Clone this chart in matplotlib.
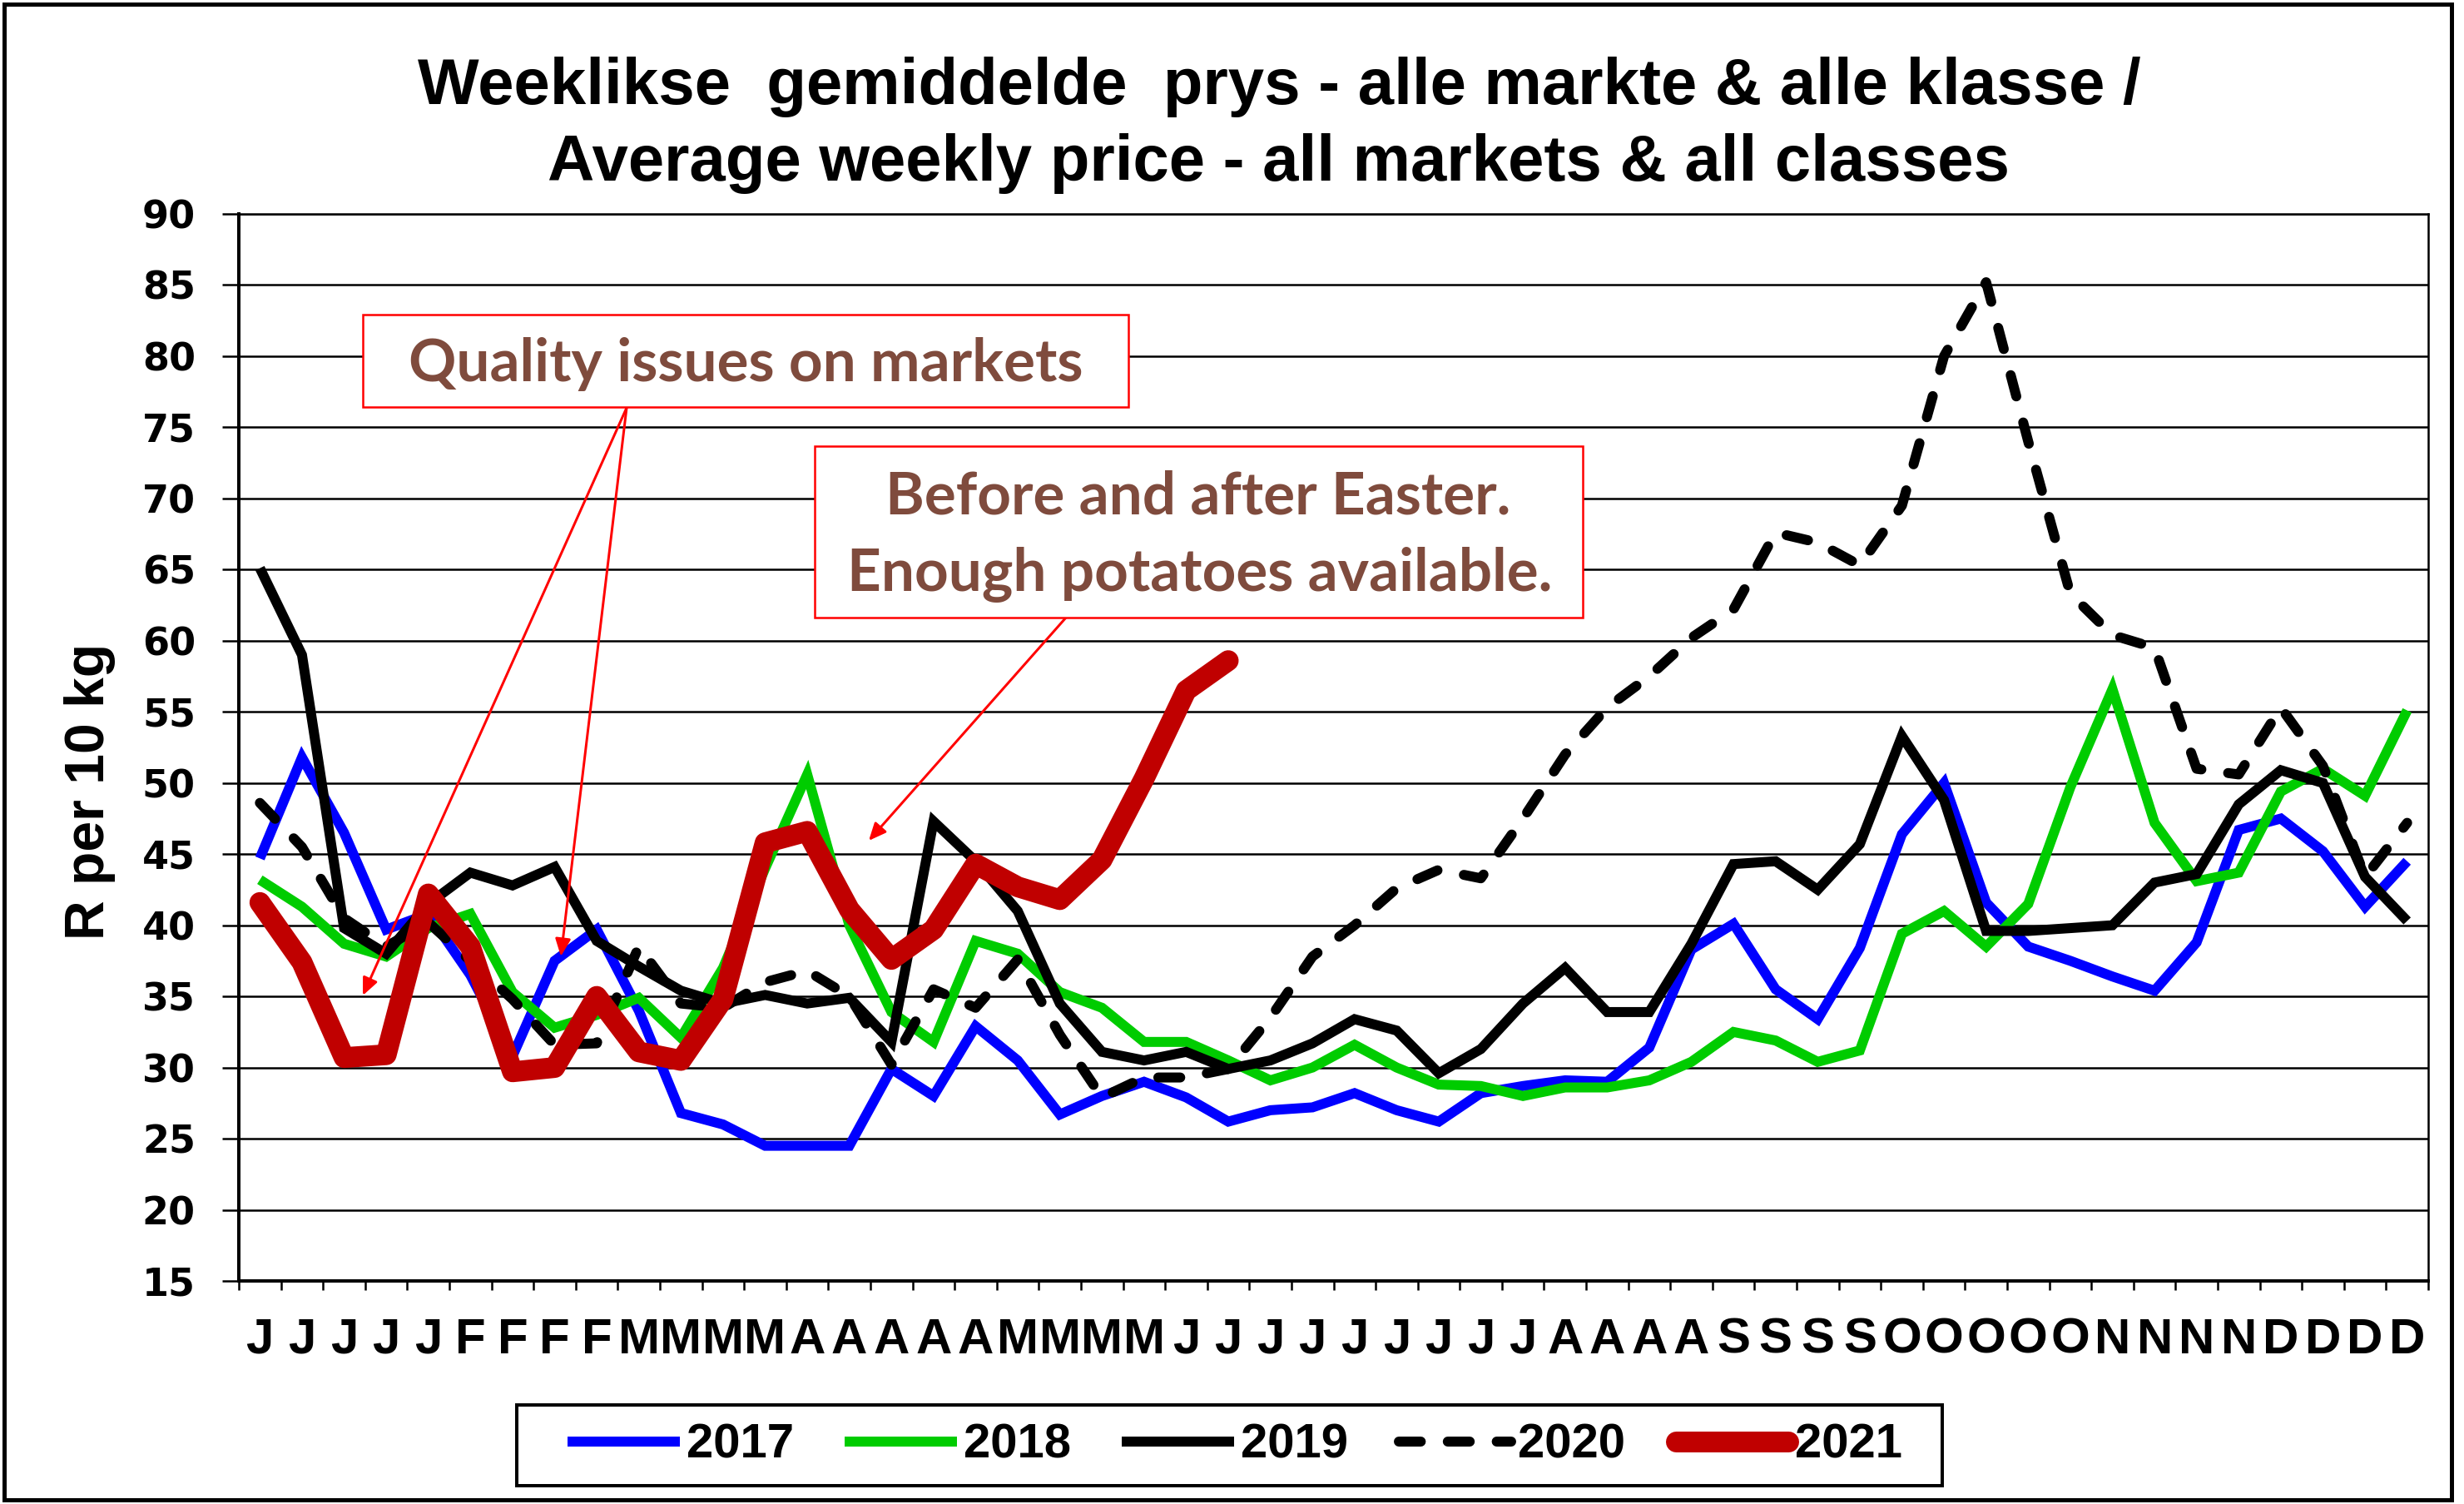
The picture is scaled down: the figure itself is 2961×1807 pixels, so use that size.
import matplotlib
matplotlib.use('Agg')
import matplotlib.pyplot as plt
from matplotlib.patches import Rectangle
import numpy as np

# ---------------- data ----------------
month_labels = (['J'] * 5 + ['F'] * 4 + ['M'] * 4 + ['A'] * 5 + ['M'] * 4 +
                ['J'] * 9 + ['A'] * 4 + ['S'] * 4 + ['O'] * 5 + ['N'] * 4 + ['D'] * 4)

y2017 = [44.7, 51.8, 46.5, 39.7, 40.8, 36.5, 30.8, 37.5, 39.7, 34.0,
         26.8, 26.0, 24.5, 24.5, 24.5, 29.9, 28.0, 32.9, 30.5, 26.7,
         28.0, 29.0, 27.9, 26.2, 27.0, 27.2, 28.2, 27.0, 26.2, 28.2,
         28.7, 29.1, 29.0, 31.4, 38.3, 40.1, 35.5, 33.4, 38.4, 46.4,
         50.0, 41.6, 38.5, 37.5, 36.4, 35.4, 38.8, 46.7, 47.5, 45.2,
         41.3, 44.5]

y2018 = [43.2, 41.3, 38.7, 37.8, 39.8, 40.8, 35.3, 32.8, 33.7, 34.9,
         32.1, 37.0, 44.0, 50.6, 40.0, 33.9, 31.8, 38.9, 38.0, 35.3,
         34.2, 31.8, 31.8, 30.5, 29.1, 30.0, 31.6, 30.0, 28.8, 28.7,
         28.0, 28.6, 28.6, 29.1, 30.4, 32.5, 31.9, 30.4, 31.2, 39.4,
         41.0, 38.5, 41.5, 49.7, 56.6, 47.2, 43.1, 43.7, 49.4, 51.0,
         49.1, 55.1]

y2019 = [65.1, 59.0, 39.8, 38.0, 41.5, 43.7, 42.8, 44.1, 38.9, 37.1,
         35.4, 34.5, 35.1, 34.5, 34.9, 31.8, 47.3, 44.5, 41.0, 34.5,
         31.1, 30.5, 31.1, 29.9, 30.5, 31.7, 33.4, 32.6, 29.6, 31.3,
         34.5, 37.0, 33.9, 33.9, 38.7, 44.3, 44.5, 42.5, 45.7, 53.3,
         48.8, 39.6, 39.6, 39.8, 40.0, 43.0, 43.6, 48.5, 50.9, 50.0,
         43.4, 40.3]

y2020 = [48.6, 45.5, 40.5, 38.5, 40.2, 37.5, 34.8, 31.6, 31.7, 38.5,
         34.5, 34.2, 36.0, 36.8, 35.0, 30.2, 35.5, 34.2, 37.6, 32.3,
         27.9, 29.3, 29.3, 29.9, 33.5, 37.8, 40.0, 42.6, 43.9, 43.3,
         47.5, 52.0, 55.3, 57.5, 60.2, 62.2, 67.6, 66.9, 65.3, 69.5,
         80.0, 85.2, 74.0, 63.3, 60.4, 59.5, 51.0, 50.6, 55.3, 51.2,
         43.4, 47.2]

y2021 = [41.6, 37.4, 30.7, 30.9, 42.2, 38.5, 29.7, 30.0, 35.0, 31.1,
         30.5, 34.8, 45.8, 46.6, 41.1, 37.6, 39.7, 44.3, 42.7, 41.8,
         44.6, 50.3, 56.5, 58.6]

years = ['2017', '2018', '2019', '2020', '2021']
y_ticks = list(range(15, 91, 5))

title_line1 = 'Weeklikse  gemiddelde  prys - alle markte & alle klasse /'
title_line2 = 'Average weekly price - all markets & all classes'
ylabel_text = 'R per 10 kg'
note1 = 'Quality issues on markets'
note2 = 'Before and after Easter.\nEnough potatoes available.'

# ---------------- figure ----------------
W, H, DPI = 2961, 1807, 100
fig = plt.figure(figsize=(W / DPI, H / DPI), dpi=DPI)
fig.patch.set_facecolor('white')


def fx(px):
    return px / W


def fy(py):
    return 1 - py / H


def pt(px):
    return px * 72.0 / DPI


AX_L, AX_R, AX_T, AX_B = 287, 2918, 257, 1539
ax = fig.add_axes([fx(AX_L), fy(AX_B), fx(AX_R) - fx(AX_L), fy(AX_T) - fy(AX_B)])

lw_thin = pt(12)
lw_red = pt(25)

ax.plot(np.arange(len(y2017)), y2017, color='#0000FF', lw=lw_thin,
        solid_joinstyle='miter', solid_capstyle='butt', label=years[0], zorder=3)
ax.plot(np.arange(len(y2018)), y2018, color='#00CC00', lw=lw_thin,
        solid_joinstyle='miter', solid_capstyle='butt', label=years[1], zorder=3)
ax.plot(np.arange(len(y2019)), y2019, color='black', lw=lw_thin,
        solid_joinstyle='miter', solid_capstyle='butt', label=years[2], zorder=3)
ax.plot(np.arange(len(y2020)), y2020, color='black', lw=lw_thin,
        linestyle=(0, (2.2, 2.7)), dash_capstyle='round', dash_joinstyle='round',
        label=years[3], zorder=3)
ax.plot(np.arange(len(y2021)), y2021, color='#C00000', lw=lw_red,
        solid_joinstyle='round', solid_capstyle='round', label=years[4], zorder=4)

ax.set_xlim(-0.5, len(month_labels) - 0.5)
ax.set_ylim(15, 90)

# y axis
ax.set_yticks(y_ticks)
ax.yaxis.grid(True, color='black', lw=pt(2.5))
ax.set_axisbelow(True)
ax.tick_params(axis='y', length=pt(20), width=pt(2.5), pad=pt(32), direction='out')
for lab in ax.get_yticklabels():
    lab.set_fontfamily('DejaVu Sans')
    lab.set_fontweight('bold')
    lab.set_fontsize(pt(46))

# x axis
ax.set_xticks(np.arange(len(month_labels)))
ax.set_xticklabels(month_labels)
ax.set_xticks(np.arange(-0.5, len(month_labels), 1.0), minor=True)
ax.tick_params(axis='x', which='major', length=0, pad=pt(44))
ax.tick_params(axis='x', which='minor', length=pt(11), width=pt(2.5), direction='out')
for lab in ax.get_xticklabels():
    lab.set_fontfamily('Liberation Sans')
    lab.set_fontweight('bold')
    lab.set_fontsize(pt(60))

for side in ['left', 'bottom']:
    ax.spines[side].set_linewidth(pt(4))
    ax.spines[side].set_color('black')
for side in ['top', 'right']:
    ax.spines[side].set_linewidth(pt(2.5))
    ax.spines[side].set_color('black')

# titles and axis label
fig.text(fx(1537), fy(125), title_line1, ha='center', va='baseline',
         fontfamily='Liberation Sans', fontweight='bold', fontsize=pt(78))
fig.text(fx(1537), fy(217), title_line2, ha='center', va='baseline',
         fontfamily='Liberation Sans', fontweight='bold', fontsize=pt(78))
fig.text(fx(108), fy(951), ylabel_text, rotation=90, ha='center', va='center',
         fontfamily='Liberation Sans', fontweight='bold', fontsize=pt(66))

# legend
leg = ax.legend(loc='center', bbox_to_anchor=(fx(1484), fy(1737)),
                bbox_transform=fig.transFigure, ncol=5, frameon=False,
                handlelength=2.33, handletextpad=0.14, columnspacing=1.05,
                borderpad=0.0, prop={'family': 'Liberation Sans', 'weight': 'bold',
                                      'size': pt(58)})
fig.add_artist(Rectangle((fx(621), fy(1785)), fx(2334) - fx(621), fy(1688) - fy(1785),
                         transform=fig.transFigure, fill=False, edgecolor='black',
                         lw=pt(4), zorder=5))

# annotation boxes
brown = '#7F4B3D'
fig.add_artist(Rectangle((fx(436), fy(489)), fx(1356) - fx(436), fy(378) - fy(489),
                         transform=fig.transFigure, facecolor='white', edgecolor='red',
                         lw=pt(2.5), zorder=5))
fig.text(fx(896), fy(458), note1, ha='center', va='baseline', color=brown,
         fontfamily='Lato', fontweight='bold', fontsize=pt(71), zorder=6)

fig.add_artist(Rectangle((fx(979), fy(742)), fx(1902) - fx(979), fy(536) - fy(742),
                         transform=fig.transFigure, facecolor='white', edgecolor='red',
                         lw=pt(2.5), zorder=5))
fig.text(fx(1440), fy(617), note2.split('\n')[0], ha='center', va='baseline', color=brown,
         fontfamily='Lato', fontweight='bold', fontsize=pt(71), zorder=6)
fig.text(fx(1442), fy(710), note2.split('\n')[1], ha='center', va='baseline', color=brown,
         fontfamily='Lato', fontweight='bold', fontsize=pt(71), zorder=6)

arrow_props = dict(arrowstyle='-|>,head_length=0.45,head_width=0.2', color='red',
                   lw=pt(3), mutation_scale=28, shrinkA=0, shrinkB=0)
for (sx, sy), (tx, ty) in [((753, 490), (436, 1196)),
                           ((753, 490), (674, 1149)),
                           ((1281, 742), (1044, 1010))]:
    ax.annotate('', xy=(tx, H - ty), xycoords='figure pixels',
                xytext=(sx, H - sy), textcoords='figure pixels',
                arrowprops=arrow_props, zorder=7, annotation_clip=False)

# outer border
fig.add_artist(Rectangle((fx(5), fy(1802)), fx(2946) - fx(5), fy(5) - fy(1802),
                         transform=fig.transFigure, fill=False, edgecolor='black',
                         lw=pt(5), zorder=10))

fig.savefig('out.png', dpi=DPI, facecolor='white')
